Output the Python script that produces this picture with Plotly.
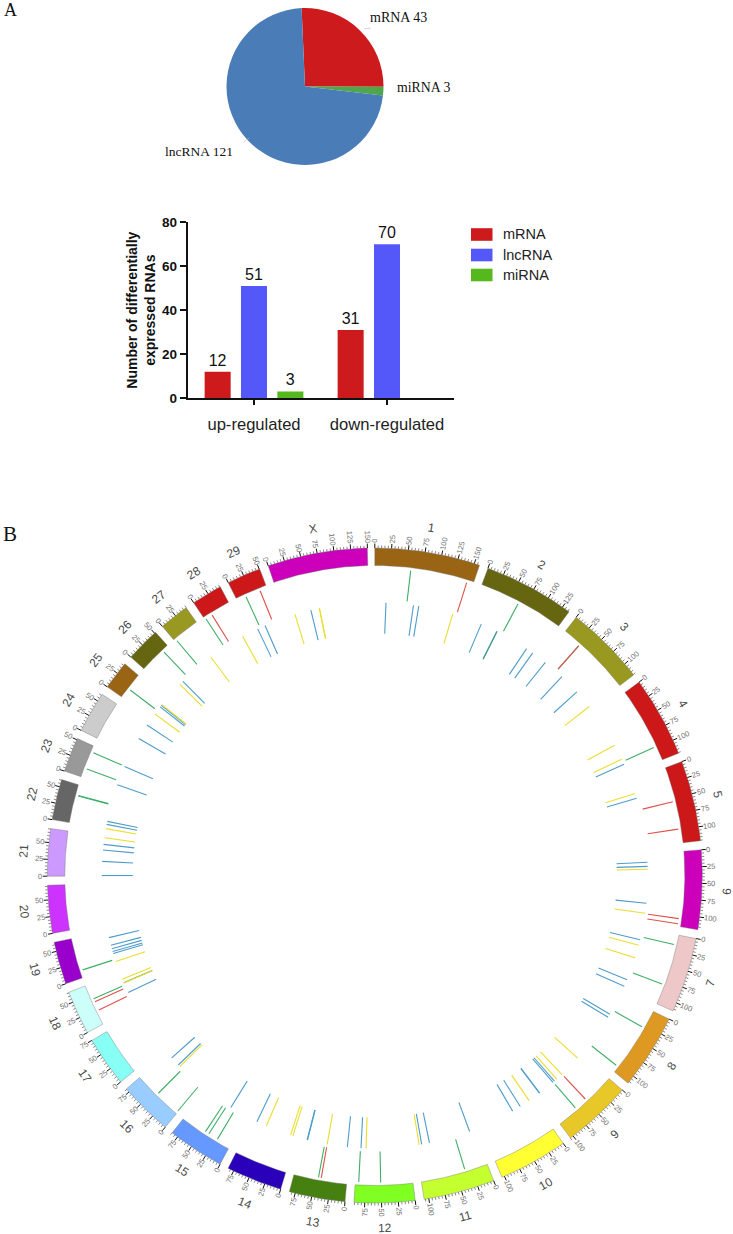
import math
import numpy as np
import plotly.graph_objects as go

# ---------- Panel A data ----------
pie_labels = ["mRNA", "miRNA", "lncRNA"]
pie_values = [43, 3, 121]
pie_colors = ["#CC1A1D", "#4EA84A", "#4A7DB8"]

bar_categories = ["up-regulated", "down-regulated"]
bar_mrna = [12, 31]
bar_lncrna = [51, 70]
bar_mirna = [3, None]
bar_colors = {"mRNA": "#CC1A1D", "lncRNA": "#5558F8", "miRNA": "#55B91E"}

# ---------- Panel B data ----------
chrom_names = [str(i) for i in range(1, 30)] + ["X"]
chrom_sizes = [158, 137, 121, 121, 121, 119, 113, 113, 105, 104, 107, 91, 84, 84, 85,
               81, 75, 66, 64, 72, 71, 61, 52, 62, 43, 52, 45, 46, 51, 150]
chrom_colors = ["#996515", "#666611", "#999922", "#CC1818", "#CC1818", "#CC00BB", "#EEC8C8",
                "#DD9922", "#E8C828", "#FFFF33", "#C4FF30", "#7FFF22", "#458011", "#2A00BB",
                "#6699FF", "#99CCFF", "#88FFF5", "#CCFFFA", "#9900CC", "#CC33FF", "#CC99FF",
                "#666666", "#999999", "#CCCCCC", "#996515", "#666611", "#999922", "#CC1818",
                "#CC1818", "#CC00BB"]

outer_green = [("1", 56.9), ("2", 64.2), ("3", 31.0), ("4", 97.8), ("7", 15.9), ("7", 81.2),
               ("8", 29.9), ("8", 103), ("9", 70.3), ("11", 36.1), ("12", 50.8), ("12", 85.5),
               ("13", 45.3), ("15", 22.4), ("15", 38.4), ("15", 44.8), ("16", 1), ("16", 42.7),
               ("18", 42.4), ("19", 11.9), ("22", 43.9), ("22", 44.6), ("23", 14.5), ("23", 42.2),
               ("25", 16.9), ("26", 41), ("27", 2.9), ("28", 2), ("29", 15.1)]
outer_red = [("1", 147.6), ("3", 31.0), ("5", 54.6), ("5", 98.8), ("6", 106.6), ("6", 114.9),
             ("9", 49.2), ("13", 40.9), ("18", 22.6), ("18", 37.2), ("28", 13.5), ("29", 39.4)]
inner_blue = [("1", 19.9), ("1", 69), ("1", 78.5), ("2", 23.2), ("2", 53.8), ("2", 115), ("2", 128.2),
              ("3", 6), ("3", 45), ("3", 83), ("4", 103), ("5", 33.3), ("6", 14.7), ("6", 21.9),
              ("6", 87.7), ("7", 21.4), ("7", 96.1), ("7", 108.9), ("8", 38.5), ("8", 44.8),
              ("9", 67.3), ("9", 70.7), ("9", 100.9), ("9", 101.6), ("10", 24.8), ("10", 40.7),
              ("11", 8.1), ("11", 82.5), ("11", 96.6), ("12", 84.6), ("13", 4.6), ("13", 76.7),
              ("13", 77.4), ("14", 75.2), ("15", 30.9), ("16", 53), ("16", 70.2), ("18", 27.7),
              ("19", 22.8), ("19", 26.5), ("19", 31.9), ("19", 38.1), ("19", 52.2), ("21", 1),
              ("21", 26.2), ("21", 46.4), ("21", 56.6), ("22", 8.2), ("22", 13.6), ("23", 7),
              ("23", 41.9), ("24", 32.5), ("24", 60.5), ("25", 25.2), ("25", 28.5), ("26", 29.7),
              ("29", 10.1), ("29", 24.4), ("X", 46.2)]
inner_yellow = [("1", 140.7), ("3", 116.9), ("4", 65.2), ("4", 93.2), ("5", 24.2), ("6", 27.2),
                ("6", 105.5), ("7", 31.3), ("7", 54.6), ("9", 9.2), ("9", 49.7), ("9", 61.8),
                ("10", 5.9), ("11", 101.1), ("12", 75.7), ("13", 40.9), ("14", 6.4), ("14", 10.8),
                ("14", 56.9), ("16", 49.2), ("18", 46.4), ("18", 53.7), ("19", 8), ("21", 68.5),
                ("22", 0.5), ("25", 9.4), ("25", 30.2), ("26", 22.2), ("27", 30.1), ("28", 39.4),
                ("X", 17), ("X", 61.4), ("X", 61.9)]
inner_green = [("18", 46.9), ("2", 54.2)]

link_colors = {"blue": "#4F9CCB", "green": "#3FAE66", "red": "#E0504A", "yellow": "#EBDD2E"}

# ---------- Geometry ----------
W, H = 733, 1234
CX, CY = 374.8, 875.5
DEG_PER_MB, GAP_DEG = 0.118, 1.57
R_IN, R_OUT = 310.0, 327.5
R_MAJOR, R_MINOR = 332.0, 330.0
TRACK_OUTER = (307.0, 276.0)
TRACK_INNER = (273.0, 242.0)

starts, pos = {}, 0.0
for name, size in zip(chrom_names, chrom_sizes):
    starts[name] = pos
    pos += size * DEG_PER_MB + GAP_DEG


def polar(theta, r):
    a = np.radians(theta)
    return r * np.sin(a), r * np.cos(a)


def px(x):
    return x / W


def py(y):
    return 1 - y / H


fig = go.Figure()

# Chromosome sectors
for name, size, color in zip(chrom_names, chrom_sizes, chrom_colors):
    a0 = starts[name]
    th = np.linspace(a0, a0 + size * DEG_PER_MB, 40)
    xo, yo = polar(th, R_OUT)
    xi, yi = polar(th[::-1], R_IN)
    fig.add_trace(go.Scatter(x=np.r_[xo, xi, xo[0]], y=np.r_[yo, yi, yo[0]], mode="lines",
                             fill="toself", fillcolor=color,
                             line=dict(color="rgba(110,110,110,0.55)", width=0.7),
                             hoverinfo="skip", showlegend=False))

# Ticks
maj_x, maj_y, min_x, min_y = [], [], [], []
annotations = []
for name, size in zip(chrom_names, chrom_sizes):
    for mb in range(0, size + 1, 5):
        th = starts[name] + mb * DEG_PER_MB
        major = mb % 25 == 0
        x0, y0 = polar(th, R_OUT)
        x1, y1 = polar(th, R_MAJOR if major else R_MINOR)
        if major:
            maj_x += [x0, x1, None]
            maj_y += [y0, y1, None]
            s = str(mb)
            lx, ly = polar(th, 332.5 + 2.1 * len(s))
            ang = th - 90 if th <= 180 else th - 270
            annotations.append(dict(x=lx, y=ly, xref="x", yref="y", text=s, textangle=ang,
                                    showarrow=False, xanchor="center", yanchor="middle", borderpad=0,
                                    font=dict(family="Liberation Sans", size=7.5, color="#707070")))
        else:
            min_x += [x0, x1, None]
            min_y += [y0, y1, None]
    mid = starts[name] + size * DEG_PER_MB / 2
    lx, ly = polar(mid, 352.5)
    ang = mid if (mid <= 90 or mid >= 270) else mid - 180
    if mid > 270:
        ang = mid - 360
    annotations.append(dict(x=lx, y=ly, xref="x", yref="y", text=name, textangle=ang,
                            showarrow=False, xanchor="center", yanchor="middle", borderpad=0,
                            font=dict(family="Liberation Sans", size=12, color="#4A4A4A")))

fig.add_trace(go.Scatter(x=min_x, y=min_y, mode="lines", line=dict(color="#555555", width=0.7),
                         hoverinfo="skip", showlegend=False))
fig.add_trace(go.Scatter(x=maj_x, y=maj_y, mode="lines", line=dict(color="#111111", width=1),
                         hoverinfo="skip", showlegend=False))


# Links
def add_links(items, track, color):
    xs, ys = [], []
    for name, mb in items:
        th = starts[name] + mb * DEG_PER_MB
        x0, y0 = polar(th, track[0])
        x1, y1 = polar(th, track[1])
        xs += [x0, x1, None]
        ys += [y0, y1, None]
    fig.add_trace(go.Scatter(x=xs, y=ys, mode="lines", line=dict(color=color, width=1.1),
                             hoverinfo="skip", showlegend=False))


add_links(inner_blue, TRACK_INNER, link_colors["blue"])
add_links(inner_green, TRACK_INNER, "#4A9A8A")
add_links(inner_yellow, TRACK_INNER, link_colors["yellow"])
add_links(outer_green, TRACK_OUTER, link_colors["green"])
add_links(outer_red, TRACK_OUTER, link_colors["red"])

# Pie
pie_d = 157
pie_cx, pie_cy = 305, 86.5
fig.add_trace(go.Pie(labels=pie_labels, values=pie_values, sort=False, direction="clockwise",
                     rotation=-2.5, marker=dict(colors=pie_colors, line=dict(width=0)),
                     textinfo="none", hoverinfo="skip", showlegend=False,
                     domain=dict(x=[px(pie_cx - pie_d / 2), px(pie_cx + pie_d / 2)],
                                 y=[py(pie_cy + pie_d / 2), py(pie_cy - pie_d / 2)])))

# Bars
for name, vals in (("mRNA", bar_mrna), ("lncRNA", bar_lncrna), ("miRNA", bar_mirna)):
    fig.add_trace(go.Bar(name=name, x=bar_categories, y=vals, xaxis="x2", yaxis="y2",
                         marker=dict(color=bar_colors[name], line=dict(width=0)),
                         text=[("" if v is None else str(v)) for v in vals], textposition="outside",
                         textfont=dict(family="Liberation Sans", size=16, color="#111111"),
                         cliponaxis=False, showlegend=False, hoverinfo="skip"))

# Text labels in panel A
serif = "Liberation Serif"
for txt, x, y, size in (("A", 10, 10, 18), ("B", 9.5, 534, 21), ("mRNA 43", 398, 17, 14),
                        ("miRNA 3", 423, 87, 13.8), ("lncRNA 121", 199, 152, 13.5)):
    annotations.append(dict(x=px(x), y=py(y), xref="paper", yref="paper", text=txt, showarrow=False,
                            xanchor="center", yanchor="middle", borderpad=0,
                            font=dict(family=serif, size=size, color="#111111")))

# Custom legend to match the wide swatches
shapes = []
for name, y in (("mRNA", 234.5), ("lncRNA", 255), ("miRNA", 275)):
    shapes.append(dict(type="rect", xref="paper", yref="paper", x0=px(471), x1=px(492.5),
                       y0=py(y + 6.3), y1=py(y - 6.3), fillcolor=bar_colors[name], line=dict(width=0)))
    annotations.append(dict(x=px(502), y=py(y), xref="paper", yref="paper", text=name, showarrow=False,
                            xanchor="left", yanchor="middle", borderpad=0,
                            font=dict(family="Liberation Sans", size=14.5, color="#222222")))

# Faint pie leader lines
for x0, y0, x1, y1 in ((364, 29, 371, 28), (244, 142, 249, 138)):
    shapes.append(dict(type="line", xref="paper", yref="paper", x0=px(x0), y0=py(y0), x1=px(x1), y1=py(y1),
                       line=dict(color="#BBBBBB", width=0.6)))

hidden = dict(visible=False, showgrid=False, zeroline=False, fixedrange=True, automargin=False)
fig.update_layout(
    template="none",
    width=W, height=H, margin=dict(l=0, r=0, t=0, b=0, pad=0), autosize=False,
    paper_bgcolor="white", plot_bgcolor="rgba(0,0,0,0)", showlegend=False,
    barmode="group", bargap=0.18, bargroupgap=0.284,
    xaxis=dict(domain=[0, 1], range=[-CX, W - CX], **hidden),
    yaxis=dict(domain=[0, 1], range=[CY - H, CY], **hidden),
    xaxis2=dict(domain=[px(187.5), px(453.5)], anchor="y2", type="category", range=[-0.5, 1.5],
                showline=True, linecolor="#111111", linewidth=1.6, ticks="outside", ticklen=5,
                tickwidth=1.5, tickcolor="#111111", showgrid=False, zeroline=False, automargin=False,
                tickfont=dict(family="Liberation Sans", size=16.6, color="#222222"),
                ticklabelstandoff=5),
    yaxis2=dict(domain=[py(398), py(222.3)], anchor="x2", range=[0, 80], tickvals=[0, 20, 40, 60, 80],
                showline=True, linecolor="#111111", linewidth=1.6, ticks="outside", ticklen=6,
                tickwidth=1.5, tickcolor="#111111", showgrid=False, zeroline=False, automargin=False,
                tickfont=dict(family="Liberation Sans", size=13.5, color="#111111", weight="bold"),
                title=dict(text="Number of differentially<br>expressed RNAs", standoff=3,
                           font=dict(family="Liberation Sans", size=14, color="#111111", weight="bold"))),
    annotations=annotations, shapes=shapes,
)

fig.write_html("out.html", config=dict(displayModeBar=False, responsive=False),
               post_script="document.body.style.margin='0';document.documentElement.style.overflow='hidden';")
